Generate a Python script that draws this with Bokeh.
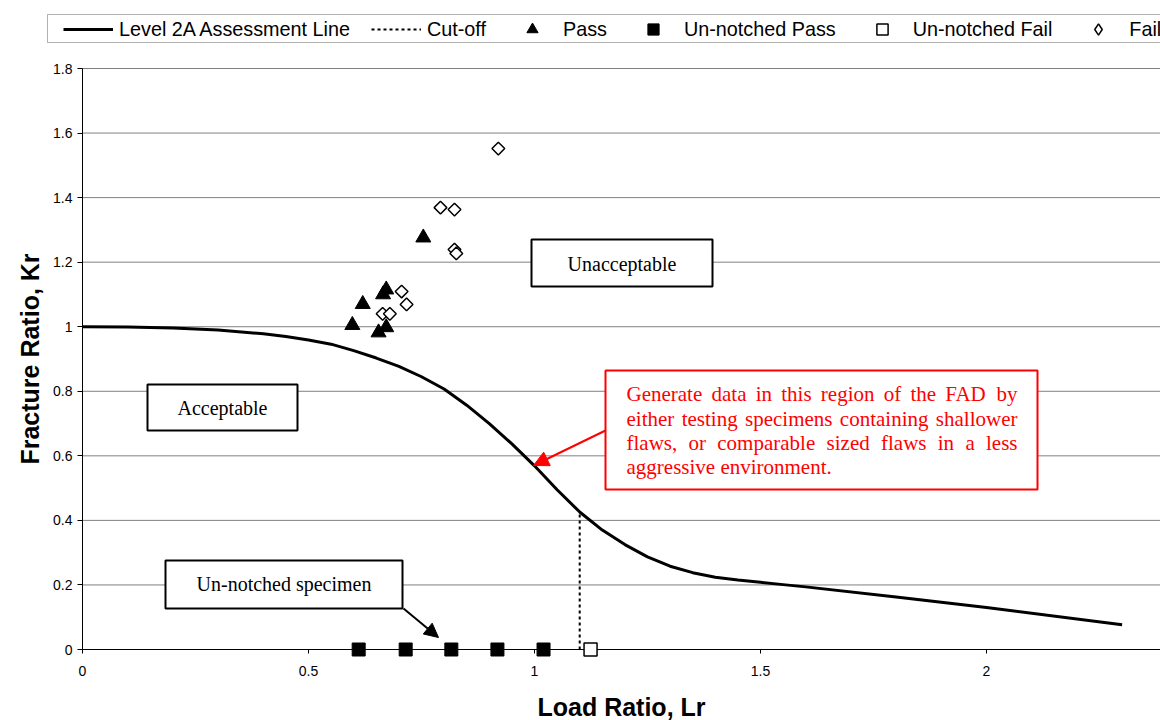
import math
from bokeh.plotting import figure
from bokeh.models import (Range1d, Legend, LegendItem, Label, Arrow, NormalHead,
                          FixedTicker, BoxAnnotation)
from bokeh.embed import file_html
from bokeh.resources import INLINE

# ---------------- data ----------------
curve_lr = [0.0, 0.1, 0.2, 0.3, 0.4, 0.45, 0.5, 0.55, 0.6, 0.65, 0.7, 0.75, 0.8, 0.85,
            0.9, 0.95, 1.0, 1.05, 1.1, 1.15, 1.2, 1.25, 1.3, 1.35, 1.4, 1.45, 1.5, 1.55,
            1.6, 1.8, 2.0, 2.3]
curve_kr = [1.0, 0.999, 0.996, 0.990, 0.978, 0.970, 0.959, 0.946, 0.926, 0.903, 0.877,
            0.845, 0.807, 0.757, 0.700, 0.637, 0.569, 0.495, 0.426, 0.370, 0.325, 0.287,
            0.258, 0.238, 0.224, 0.215, 0.208, 0.201, 0.194, 0.163, 0.130, 0.077]

cutoff_lr = [1.1, 1.1]
cutoff_kr = [0.0, 0.425]

pass_lr = [0.597, 0.620, 0.655, 0.665, 0.672, 0.672, 0.754]
pass_kr = [1.005, 1.070, 0.982, 1.100, 1.115, 0.998, 1.276]

fail_lr = [0.664, 0.680, 0.706, 0.717, 0.792, 0.823, 0.823, 0.827, 0.920]
fail_kr = [1.040, 1.040, 1.109, 1.069, 1.369, 1.363, 1.239, 1.227, 1.552]

unnotched_pass_lr = [0.611, 0.715, 0.816, 0.918, 1.020]
unnotched_pass_kr = [0.0, 0.0, 0.0, 0.0, 0.0]

unnotched_fail_lr = [1.124]
unnotched_fail_kr = [0.0]

x_ticks = [0, 0.5, 1, 1.5, 2]
x_tick_labels = ["0", "0.5", "1", "1.5", "2"]
y_ticks = [0, 0.2, 0.4, 0.6, 0.8, 1, 1.2, 1.4, 1.6, 1.8]
y_tick_labels = ["0", "0.2", "0.4", "0.6", "0.8", "1", "1.2", "1.4", "1.6", "1.8"]

legend_labels = ["Level 2A Assessment Line", "Cut-off", "Pass", "Un-notched Pass",
                 "Un-notched Fail", "Fail"]

# ---------------- layout helpers (pixel -> data for annotations) ----------------
W, H = 1160, 720
LEFT, TOP, ZERO_PX = 82, 68, 649
XSCALE = 452.0
YSCALE = (ZERO_PX - TOP) / 1.8
XSTART = -LEFT / XSCALE
XEND = (W - LEFT) / XSCALE
YSTART = -(H - ZERO_PX) / YSCALE
YEND = 1.8 + TOP / YSCALE


def X(px):
    return (px - LEFT) / XSCALE


def Y(py):
    return (ZERO_PX - py) / YSCALE


p = figure(width=W, height=H, x_range=Range1d(XSTART, XEND), y_range=Range1d(YSTART, YEND),
           output_backend="svg", toolbar_location=None,
           min_border_left=0, min_border_right=0, min_border_top=0, min_border_bottom=0)
p.outline_line_color = None
p.background_fill_color = "white"
p.xgrid.visible = False
p.ygrid.visible = False

# horizontal gridlines, from the axis to the right edge
p.segment(x0=[0] * len(y_ticks), y0=y_ticks, x1=[XEND] * len(y_ticks), y1=y_ticks,
          line_color="#808080", line_width=1, level="underlay")

# axes
p.xaxis.fixed_location = 0
p.yaxis.fixed_location = 0
p.xaxis.ticker = FixedTicker(ticks=x_ticks)
p.xaxis.major_label_overrides = dict(zip(x_ticks, x_tick_labels))
p.xaxis.axis_label = "Load Ratio, Lr"
p.xaxis.bounds = (0, XEND)
p.yaxis.ticker = FixedTicker(ticks=y_ticks)
p.yaxis.major_label_overrides = dict(zip(y_ticks, y_tick_labels))
p.yaxis.axis_label = "Fracture Ratio, Kr"
p.yaxis.bounds = (0, 1.8)
for ax in (p.xaxis, p.yaxis):
    ax.axis_line_color = "black"
    ax.axis_line_width = 1
    ax.major_tick_line_color = "black"
    ax.minor_tick_line_color = None
    ax.major_tick_in = 0
    ax.major_label_text_font = "Liberation Sans"
    ax.major_label_text_font_size = "14px"
    ax.major_label_text_color = "black"
    ax.axis_label_text_font = "Liberation Sans"
    ax.axis_label_text_font_size = "25px"
    ax.axis_label_text_font_style = "bold"
    ax.axis_label_text_color = "black"
p.xaxis.major_tick_out = 4
p.xaxis.major_label_standoff = 12
p.xaxis.axis_label_standoff = 14
p.yaxis.major_tick_out = 5
p.yaxis.major_label_standoff = 5
p.yaxis.axis_label_standoff = 6

# annotation boxes
def box(l, r, t, b, color):
    p.quad(left=[X(l)], right=[X(r)], top=[Y(t)], bottom=[Y(b)], fill_color="white",
           line_color=color, line_width=2)

box(147, 297, 384, 430, "black")
box(531, 712, 239, 286, "black")
box(165, 402, 560, 608, "black")
box(605, 1037, 370, 489, "red")

# legend key for the "Fail" series (legend keys are drawn unrotated, so a diamond
# marker stands in; it is tiny in the plot and covered by the real marker)
r_fail_key = p.scatter(fail_lr[:1], fail_kr[:1], marker="diamond", size=0.5,
                       fill_color="white", line_color="black", line_width=1.5)

# data
r_curve = p.line(curve_lr, curve_kr, line_color="black", line_width=3)
r_cut = p.line(cutoff_lr, cutoff_kr, line_color="black", line_width=2, line_dash="3 3")
r_pass = p.scatter(pass_lr, pass_kr, marker="triangle", size=15, fill_color="black",
                   line_color="black")
r_fail = p.scatter(fail_lr, fail_kr, marker="square", angle=math.pi / 4, size=9,
                   fill_color="white", line_color="black", line_width=1.5)
r_upass = p.scatter(unnotched_pass_lr, unnotched_pass_kr, marker="square", size=13,
                    fill_color="black", line_color="black", level="annotation")
r_ufail = p.scatter(unnotched_fail_lr, unnotched_fail_kr, marker="square", size=13,
                    fill_color="white", line_color="black", line_width=1.5,
                    level="annotation")

BASE_SHIFT = -7


def label(px, base, text, color="black", align="center", size="20px"):
    p.add_layout(Label(x=X(px), y=Y(base + BASE_SHIFT), text=text, text_align=align,
                       text_baseline="alphabetic", text_font="Liberation Serif",
                       text_font_size=size, text_color=color))


label(222, 414, "Acceptable")
label(621.5, 270, "Unacceptable")
label(283.5, 590, "Un-notched specimen")

# justified red note (Times metrics, 1/1000 em)
TIMES = {"a": 444, "b": 500, "c": 444, "d": 500, "e": 444, "f": 333, "g": 500, "h": 500,
         "i": 278, "l": 278, "m": 778, "n": 500, "o": 500, "p": 500, "r": 333, "s": 389,
         "t": 278, "v": 500, "w": 722, "y": 500, "z": 444, ",": 250, ".": 250, " ": 250,
         "A": 722, "D": 722, "F": 556, "G": 722}
RED_SIZE = 21
RED_L, RED_R = 626, 1017


def tw(word):
    return sum(TIMES.get(c, 500) for c in word) / 1000.0 * RED_SIZE


red_lines = [("Generate data in this region of the FAD by", 400, True),
             ("either testing specimens containing shallower", 425, True),
             ("flaws, or comparable sized flaws in a less", 449, True),
             ("aggressive environment.", 473, False)]
for line_text, base, justify in red_lines:
    if not justify:
        label(RED_L, base, line_text, color="red", align="left", size=f"{RED_SIZE}px")
        continue
    words = line_text.split(" ")
    widths = [tw(w) for w in words]
    gap = (RED_R - RED_L - sum(widths)) / (len(words) - 1)
    xpos = RED_L
    for w, wd in zip(words, widths):
        label(xpos, base, w, color="red", align="left", size=f"{RED_SIZE}px")
        xpos += wd + gap

# arrows
p.add_layout(Arrow(end=NormalHead(size=14, fill_color="black", line_color="black"),
                   x_start=X(403), y_start=Y(608), x_end=X(438), y_end=Y(637),
                   line_color="black", line_width=2))
p.add_layout(Arrow(end=NormalHead(size=15, fill_color="red", line_color="red"),
                   x_start=X(605), y_start=Y(430), x_end=X(533), y_end=Y(465),
                   line_color="red", line_width=2))

# legend
p.add_layout(BoxAnnotation(left=X(47), right=X(1200), top=Y(14), bottom=Y(42),
                           fill_color="white", fill_alpha=1, line_color="black",
                           line_width=1))
renderers = [[r_curve], [r_cut], [r_pass], [r_upass], [r_ufail], [r_fail_key]]
legend = Legend(items=[LegendItem(label=l, renderers=r) for l, r in zip(legend_labels, renderers)],
                orientation="horizontal", location=(63, H - 43),
                padding=3, margin=0, spacing=21, glyph_width=50, glyph_height=28,
                label_standoff=6, label_text_font="Liberation Sans",
                label_text_font_size="19.8px", label_text_color="black",
                border_line_color=None, background_fill_alpha=0)
p.add_layout(legend)

open("out.html", "w").write(file_html(p, INLINE))
